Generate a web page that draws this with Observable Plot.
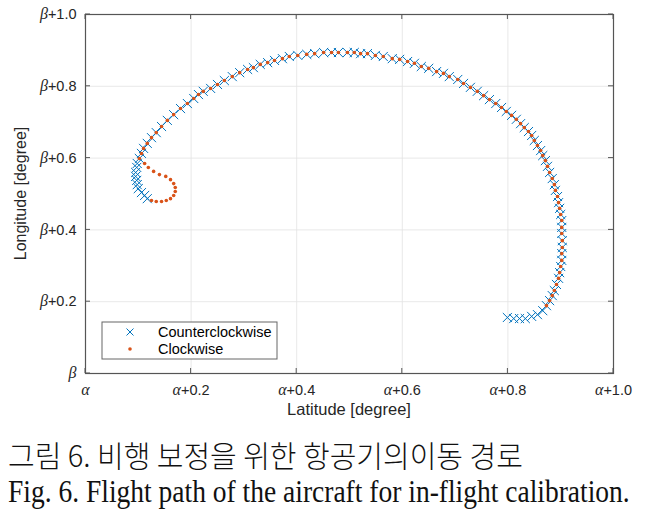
<!DOCTYPE html>
<html><head><meta charset="utf-8">
<script src="https://cdn.jsdelivr.net/npm/d3@7"></script>
<script src="https://cdn.jsdelivr.net/npm/@observablehq/plot@0.6"></script>
<style>
body{margin:0;background:#fff;}
#wrap{width:651px;}
svg{display:block;}
</style></head><body><div id="wrap"></div>
<script>
// Shared arc (both paths overlap here): latitude offset (x) and longitude offset (y)
const sharedLat = [0.102,0.106,0.110,0.117,0.125,0.134,0.144,0.155,0.167,0.180,
  0.193,0.205,0.214,0.223,0.237,0.250,0.263,0.278,0.292,0.307,
  0.318,0.331,0.345,0.358,0.373,0.386,0.402,0.419,0.434,0.451,
  0.466,0.479,0.496,0.509,0.521,0.534,0.549,0.564,0.581,0.595,
  0.610,0.623,0.636,0.650,0.665,0.678,0.689,0.705,0.716,0.729,
  0.742,0.754,0.765,0.777,0.788,0.797,0.807,0.816,0.824,0.831,
  0.839,0.845,0.850,0.856,0.862,0.866,0.871,0.875,0.879,0.884,
  0.888,0.890,0.894,0.896,0.898,0.900,0.902,0.902,0.902,0.903,
  0.903,0.902,0.902,0.900,0.898,0.896,0.892,0.888,0.884,0.879,0.873];
const sharedLon = [0.599,0.613,0.627,0.641,0.657,0.671,0.688,0.705,0.721,0.738,
  0.752,0.766,0.777,0.786,0.794,0.805,0.816,0.827,0.838,0.847,
  0.852,0.861,0.866,0.872,0.877,0.883,0.886,0.889,0.891,0.894,
  0.894,0.894,0.894,0.894,0.891,0.891,0.886,0.883,0.877,0.875,
  0.869,0.864,0.855,0.850,0.841,0.836,0.827,0.819,0.808,0.797,
  0.786,0.774,0.763,0.752,0.741,0.730,0.719,0.708,0.696,0.685,
  0.674,0.663,0.649,0.635,0.621,0.607,0.593,0.577,0.560,0.543,
  0.526,0.510,0.493,0.476,0.460,0.443,0.426,0.407,0.390,0.370,
  0.351,0.334,0.315,0.298,0.281,0.265,0.248,0.231,0.217,0.203,0.189];
// Counterclockwise-only segments
const ccwStartLat = [0.799,0.811,0.822,0.833,0.845,0.856,0.866];
const ccwStartLon = [0.156,0.153,0.153,0.153,0.159,0.164,0.175];
const ccwEndLat = [0.098,0.097,0.095,0.095,0.097,0.098,0.100,0.106,0.112,0.117];
const ccwEndLon = [0.585,0.574,0.560,0.549,0.538,0.526,0.515,0.504,0.496,0.487];
// Clockwise-only segment (small loop)
const cwStartLat = [0.125,0.134,0.144,0.153,0.161,0.167,0.170,0.170,0.167,0.161,0.152,0.140,0.129,0.119,0.112];
const cwStartLon = [0.482,0.479,0.479,0.482,0.487,0.496,0.507,0.518,0.529,0.540,0.549,0.554,0.563,0.574,0.585];

const ticks = [0,0.2,0.4,0.6,0.8,1.0];
const xTickLabels = ["α","α+0.2","α+0.4","α+0.6","α+0.8","α+1.0"];
const yTickLabels = ["β","β+0.2","β+0.4","β+0.6","β+0.8","β+1.0"];
const seriesNames = ["Counterclockwise","Clockwise"];
const seriesColors = ["#0072BD","#D95319"];

const zip = (a,b) => a.map((v,i) => ({lat:v, lon:b[i]}));
const ccw = [...zip(ccwStartLat,ccwStartLon), ...zip(sharedLat,sharedLon).reverse(), ...zip(ccwEndLat,ccwEndLon)];
const cw = [...zip(cwStartLat,cwStartLon), ...zip(sharedLat,sharedLon)];

const plot = Plot.plot({
  width: 651, height: 420,
  marginLeft: 85, marginRight: 38, marginTop: 14, marginBottom: 47,
  style: {fontFamily: "Liberation Sans, Arial, sans-serif", fontSize: "14.5px", color: "#262626", background: "#fff"},
  x: {domain: [0,1]},
  y: {domain: [0,1]},
  marks: [
    Plot.gridX(ticks, {stroke: "#e2e2e2", strokeOpacity: 1, strokeWidth: 0.8}),
    Plot.gridY(ticks, {stroke: "#e2e2e2", strokeOpacity: 1, strokeWidth: 0.8}),
    Plot.axisX(ticks, {tickSize: 0, tickPadding: 11, tickFormat: (d,i) => xTickLabels[i], label: null, fontSize: 14.5}),
    Plot.axisY(ticks, {tickSize: 0, tickPadding: 9, tickFormat: (d,i) => yTickLabels[i], label: null, fontSize: 14.5}),
    Plot.dot(ccw, {x: "lat", y: "lon", symbol: "times", r: 4.2, stroke: seriesColors[0], strokeWidth: 1}),
    Plot.dot(cw, {x: "lat", y: "lon", r: 1.8, fill: seriesColors[1], stroke: null}),
    Plot.frame({stroke: "#555", strokeWidth: 1.2})
  ]
});
document.getElementById("wrap").appendChild(plot);

const svg = d3.select(plot);
const xs = plot.scale("x"), ys = plot.scale("y");
const X0 = xs.apply(0), X1 = xs.apply(1), Y0 = ys.apply(0), Y1 = ys.apply(1);

// italic Greek in tick labels
svg.selectAll('g[aria-label="x-axis tick label"] text, g[aria-label="y-axis tick label"] text').each(function(){
  const t = this.textContent;
  const g = t[0], rest = t.slice(1);
  this.textContent = "";
  d3.select(this).append("tspan").attr("font-style","italic").attr("font-family","Liberation Serif, serif").attr("font-size","16px").text(g);
  if (rest) d3.select(this).append("tspan").text(rest);
});

// inward ticks on all sides
const tg = svg.append("g").attr("stroke","#555").attr("stroke-width",1);
ticks.forEach(v => {
  const px = xs.apply(v), py = ys.apply(v);
  tg.append("line").attr("x1",px).attr("x2",px).attr("y1",Y0).attr("y2",Y0-5);
  tg.append("line").attr("x1",px).attr("x2",px).attr("y1",Y1).attr("y2",Y1+5);
  tg.append("line").attr("y1",py).attr("y2",py).attr("x1",X0).attr("x2",X0+5);
  tg.append("line").attr("y1",py).attr("y2",py).attr("x1",X1).attr("x2",X1-5);
});

// axis labels
svg.append("text").attr("x",(X0+X1)/2).attr("y",Y0+42).attr("text-anchor","middle")
  .attr("font-size","16.5px").attr("fill","#262626").text("Latitude [degree]");
svg.append("text").attr("transform",`translate(${26},${(Y0+Y1)/2}) rotate(-90)`).attr("text-anchor","middle")
  .attr("font-size","16px").attr("fill","#262626").text("Longitude [degree]");

// legend
const lg = svg.append("g").attr("transform",`translate(${X0+17},${Y0-51})`);
lg.append("rect").attr("width",175).attr("height",37).attr("fill","#fff").attr("stroke","#666").attr("stroke-width",1);
seriesNames.forEach((name,i) => {
  const cy = 10 + i*17;
  if (i === 0) {
    lg.append("path").attr("d",`M${28-3.5},${cy-3.5}L${28+3.5},${cy+3.5}M${28-3.5},${cy+3.5}L${28+3.5},${cy-3.5}`)
      .attr("stroke",seriesColors[0]).attr("stroke-width",1).attr("fill","none");
  } else {
    lg.append("circle").attr("cx",28).attr("cy",cy).attr("r",1.8).attr("fill",seriesColors[1]);
  }
  lg.append("text").attr("x",56).attr("y",cy).attr("dy","0.35em").attr("text-anchor","start")
    .attr("font-size","14.5px").attr("fill","#000").text(name);
});

// caption (horizontally condensed with a transform to the reference widths)
const cap = d3.select("#wrap").append("svg").attr("width",651).attr("height",93);
function capLine(txt, family, weight, size, baseline, targetW) {
  const g = cap.append("g");
  const t = g.append("text").attr("x",0).attr("y",0).attr("font-family",family).attr("font-weight",weight)
    .attr("font-size",size+"px").attr("fill","#111").text(txt);
  const w = t.node().getComputedTextLength();
  g.attr("transform",`translate(8,${baseline}) scale(${targetW/w},1)`);
}
capLine("그림 6. 비행 보정을 위한 항공기의이동 경로", "Noto Sans CJK KR, sans-serif", 300, 30, 47, 515);
capLine("Fig. 6. Flight path of the aircraft for in-flight calibration.", "Liberation Serif, serif", 400, 31, 82, 622);
</script>
</body></html>
